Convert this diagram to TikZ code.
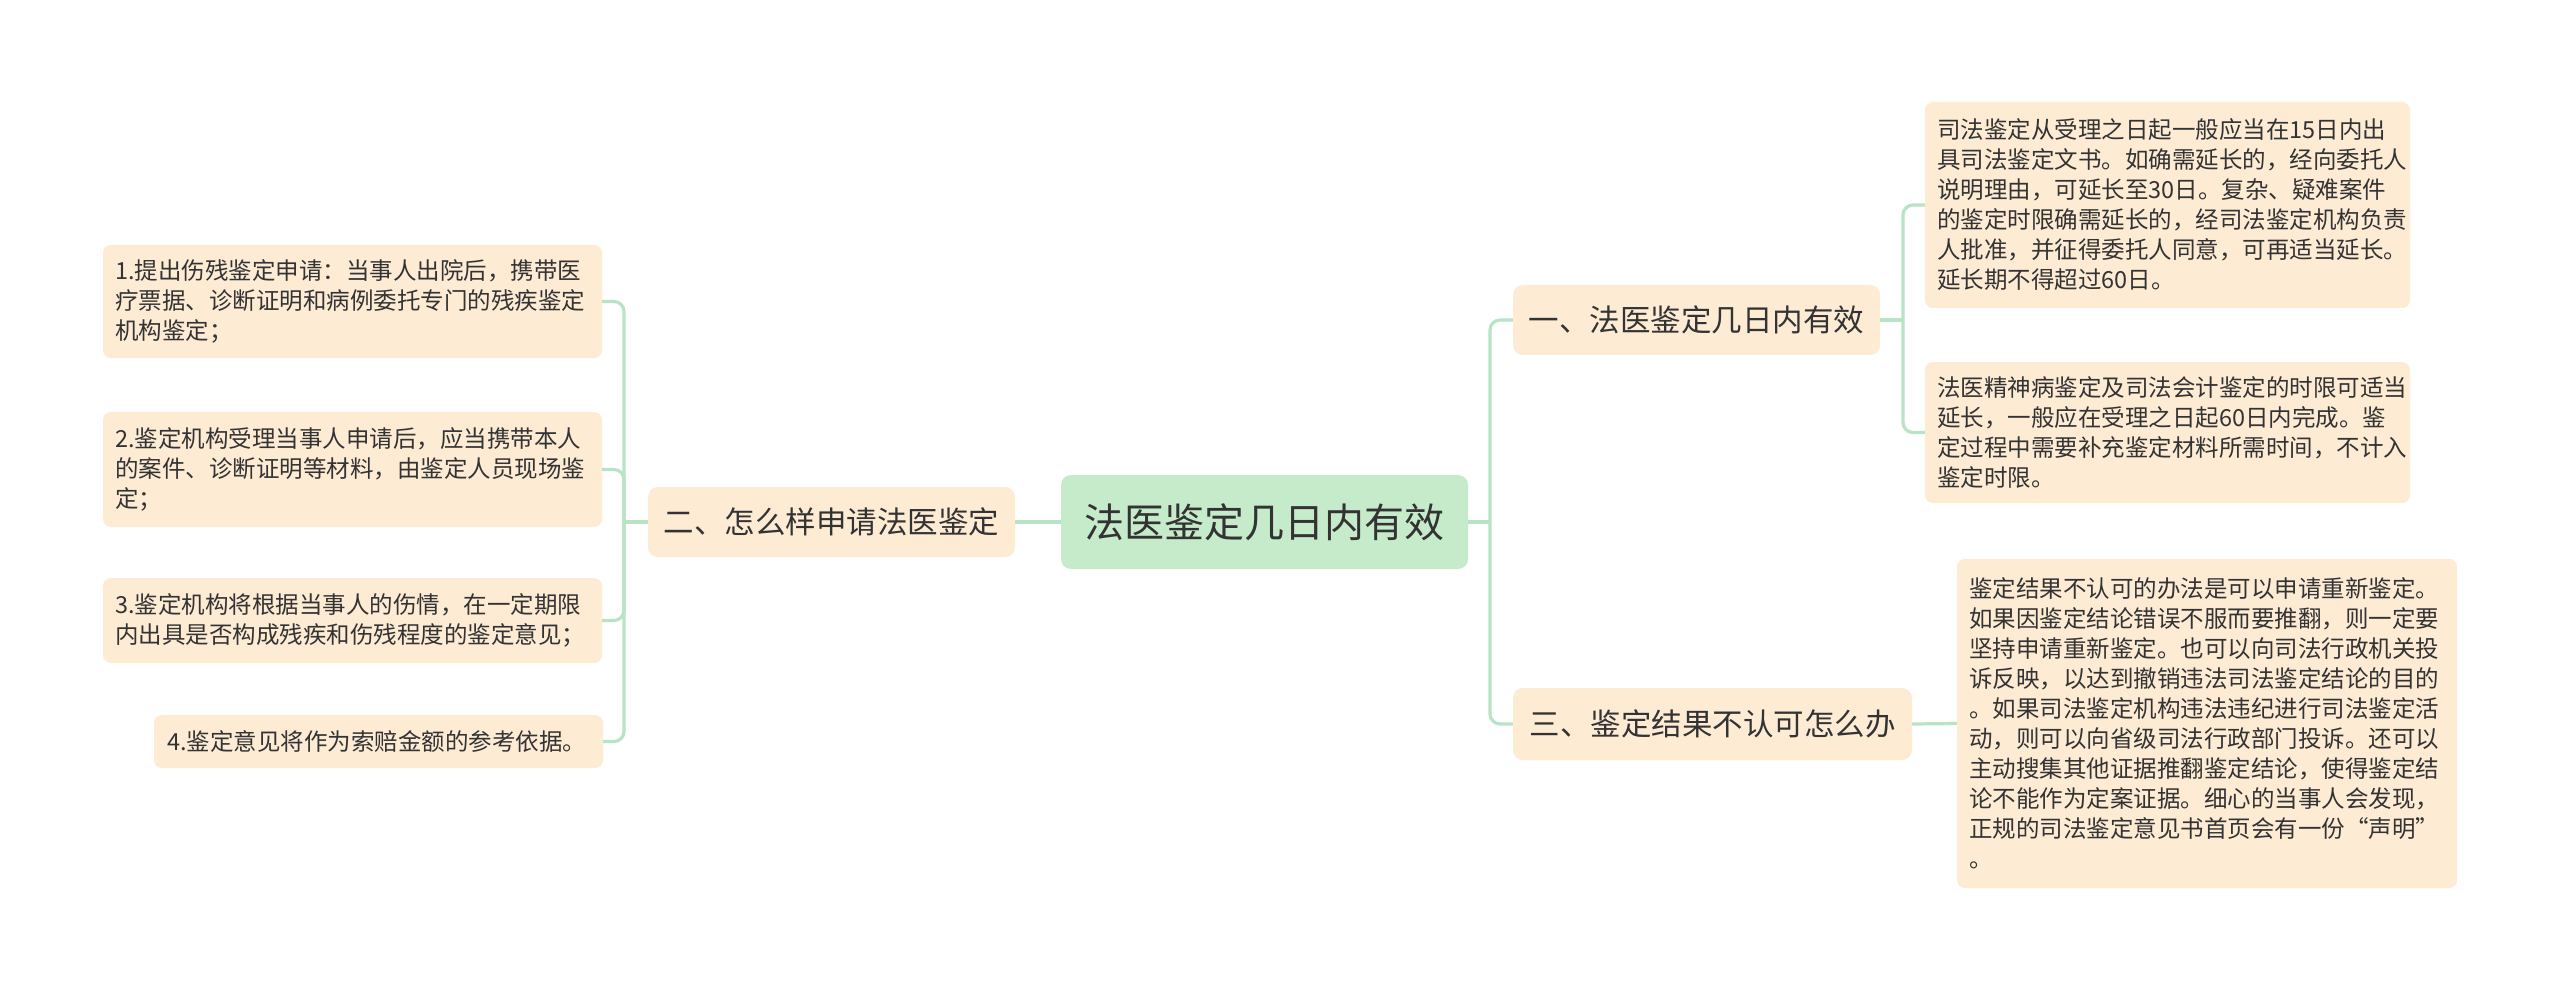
\documentclass[tikz,border=0pt]{standalone}
\usepackage{fontspec}
\setmainfont{Noto Sans CJK SC}
\definecolor{leafC}{HTML}{FDEBD4}
\definecolor{rootC}{HTML}{C5EBCA}
\definecolor{lineC}{HTML}{B8E4C5}
\definecolor{txtC}{HTML}{333333}
\tikzset{
  conn/.style={draw=lineC, line width=3.2pt, rounded corners=10pt},
  leaf/.style={fill=leafC, rounded corners=8pt, inner sep=0pt, align=left, text=txtC, font=\fontsize{23.5}{30}\selectfont},
  branch/.style={fill=leafC, rounded corners=10pt, inner sep=0pt, text=txtC, font=\fontsize{30.5}{36}\selectfont},
  rootbox/.style={fill=rootC, rounded corners=10pt, inner sep=0pt, text=txtC, font=\fontsize{40}{48}\selectfont},
}
\begin{document}
\begin{tikzpicture}[x=1pt,y=-1pt]
\fill[white] (0,0) rectangle (2560,992);
\useasboundingbox (0,0) rectangle (2560,992);

% root
\node[rootbox, minimum width=407pt, minimum height=94pt] (root) at (1264.5,522) {法医鉴定几日内有效};

% branches
\node[branch, minimum width=367pt, minimum height=70pt] (b2) at (831.5,522) {二、怎么样申请法医鉴定};
\node[branch, minimum width=367pt, minimum height=70pt] (b1) at (1696.5,320) {一、法医鉴定几日内有效};
\node[branch, minimum width=399pt, minimum height=72pt] (b3) at (1712.5,724) {三、鉴定结果不认可怎么办};

% left leaves
\node[leaf, minimum width=499pt, minimum height=113pt, text width=475pt] (l1) at (352.5,301.5) {1.提出伤残鉴定申请：当事人出院后，携带医\\疗票据、诊断证明和病例委托专门的残疾鉴定\\机构鉴定；};
\node[leaf, minimum width=499pt, minimum height=115pt, text width=475pt] (l2) at (352.5,469.5) {2.鉴定机构受理当事人申请后，应当携带本人\\的案件、诊断证明等材料，由鉴定人员现场鉴\\定；};
\node[leaf, minimum width=499pt, minimum height=85pt, text width=475pt] (l3) at (352.5,620.5) {3.鉴定机构将根据当事人的伤情，在一定期限\\内出具是否构成残疾和伤残程度的鉴定意见；};
\node[leaf, minimum width=449pt, minimum height=53pt, text width=423pt] (l4) at (378.5,741.5) {4.鉴定意见将作为索赔金额的参考依据。};

% right leaves
\node[leaf, minimum width=485pt, minimum height=206pt, text width=461pt] (r1) at (2167.5,205) {司法鉴定从受理之日起一般应当在15日内出\\具司法鉴定文书。如确需延长的，经向委托人\\说明理由，可延长至30日。复杂、疑难案件\\的鉴定时限确需延长的，经司法鉴定机构负责\\人批准，并征得委托人同意，可再适当延长。\\延长期不得超过60日。};
\node[leaf, minimum width=485pt, minimum height=141pt, text width=461pt] (r2) at (2167.5,432.5) {法医精神病鉴定及司法会计鉴定的时限可适当\\延长，一般应在受理之日起60日内完成。鉴\\定过程中需要补充鉴定材料所需时间，不计入\\鉴定时限。};
\node[leaf, minimum width=500pt, minimum height=329pt, text width=476pt] (r3) at (2207,723.5) {鉴定结果不认可的办法是可以申请重新鉴定。\\如果因鉴定结论错误不服而要推翻，则一定要\\坚持申请重新鉴定。也可以向司法行政机关投\\诉反映，以达到撤销违法司法鉴定结论的目的\\。如果司法鉴定机构违法违纪进行司法鉴定活\\动，则可以向省级司法行政部门投诉。还可以\\主动搜集其他证据推翻鉴定结论，使得鉴定结\\论不能作为定案证据。细心的当事人会发现，\\正规的司法鉴定意见书首页会有一份“声明”\\。};

% junction coordinates
\coordinate (lt) at (624,522);
\coordinate (rt) at (1490,522);
\coordinate (bt1) at (1903,320);

% connectors
\draw[conn] (root.west) -- (b2.east);
\draw[conn] (b2.west) -- (lt);
\draw[conn] (lt) |- (l1.east);
\draw[conn] (lt) |- (l2.east);
\draw[conn] (lt) |- (l3.east);
\draw[conn] (lt) |- (l4.east);

\draw[conn] (root.east) -- (rt);
\draw[conn] (rt) |- (b1.west);
\draw[conn] (rt) |- (b3.west);

\draw[conn] (b1.east) -- (bt1);
\draw[conn] (bt1) |- (r1.west);
\draw[conn] (bt1) |- (r2.west);

\draw[conn] (b3.east) -- (r3.west);
\end{tikzpicture}
\end{document}
